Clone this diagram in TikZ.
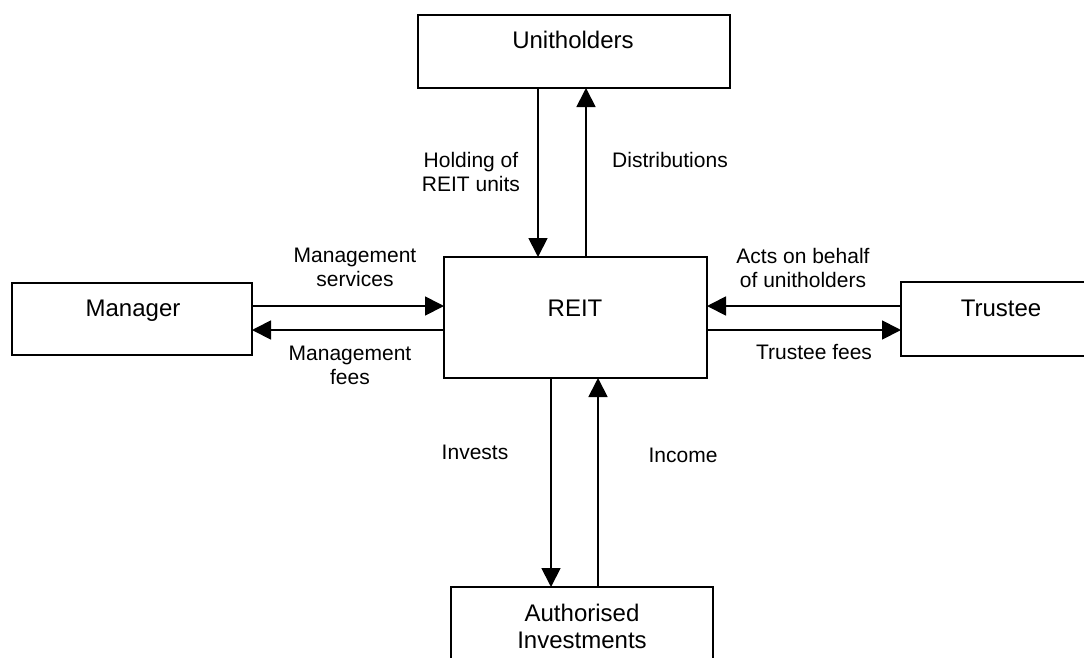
\documentclass[tikz,border=0pt]{standalone}
\usepackage{fontspec}
\setmainfont{Liberation Sans}
\usetikzlibrary{arrows.meta}
\begin{document}
\begin{tikzpicture}[x=1pt,y=-1pt,
  box/.style={draw, line width=1.8pt, inner sep=0pt, outer sep=0pt, rectangle},
  boxtext/.style={font=\fontsize{24}{27}\selectfont, align=center, inner sep=0pt},
  lbl/.style={font=\fontsize{21}{24}\selectfont, align=center, inner sep=0pt},
  flow/.style={line width=1.8pt, -{Triangle[length=19pt,width=19pt]}}]
\useasboundingbox (0,0) rectangle (1084,657);
\clip (0,0) rectangle (1084,657);
\fill[white] (0,0) rectangle (1084,657);
% boxes
\node[box, minimum width=312pt, minimum height=73pt] (unit) at (574,51.5) {};
\node[box, minimum width=263pt, minimum height=121pt] (reit) at (575.5,317.5) {};
\node[box, minimum width=240pt, minimum height=72pt] (man) at (132,319) {};
\node[box, minimum width=199pt, minimum height=74pt] (tru) at (1000.5,319) {};
\node[box, minimum width=262pt, minimum height=93pt] (inv) at (582,633.5) {};
% box texts
\node[boxtext] (tunit) at (573,40) {Unitholders};
\node[boxtext] (treit) at (575,308) {REIT};
\node[boxtext] (tman) at (133,310.5) {Manager};
\node[boxtext] (ttru) at (1001,308) {Trustee};
\node[boxtext] (tinv) at (582,626.5) {Authorised\\Investments};
% connector positions
\coordinate (xh) at (538,0);
\coordinate (xd) at (586,0);
\coordinate (xi) at (551,0);
\coordinate (xc) at (598,0);
\coordinate (ya) at (0,306);
\coordinate (yb) at (0,330);
% connectors
\draw[flow] (unit.south -| xh) -- (reit.north -| xh);
\draw[flow] (reit.north -| xd) -- (unit.south -| xd);
\draw[flow] (reit.south -| xi) -- (inv.north -| xi);
\draw[flow] (inv.north -| xc) -- (reit.south -| xc);
\draw[flow] (man.east |- ya) -- (reit.west |- ya);
\draw[flow] (reit.west |- yb) -- (man.east |- yb);
\draw[flow] (tru.west |- ya) -- (reit.east |- ya);
\draw[flow] (reit.east |- yb) -- (tru.west |- yb);
% labels
\node[lbl] (lhold) at (471,171.5) {Holding of\\REIT units};
\node[lbl] (ldist) at (670,160) {Distributions};
\node[lbl] (lms) at (355,267.5) {Management\\services};
\node[lbl] (lmf) at (350,365) {Management\\fees};
\node[lbl] (lacts) at (803,267.5) {Acts on behalf\\of unitholders};
\node[lbl] (ltf) at (814,352) {Trustee fees};
\node[lbl] (linv) at (475,452) {Invests};
\node[lbl] (linc) at (683,455) {Income};
\end{tikzpicture}
\end{document}
